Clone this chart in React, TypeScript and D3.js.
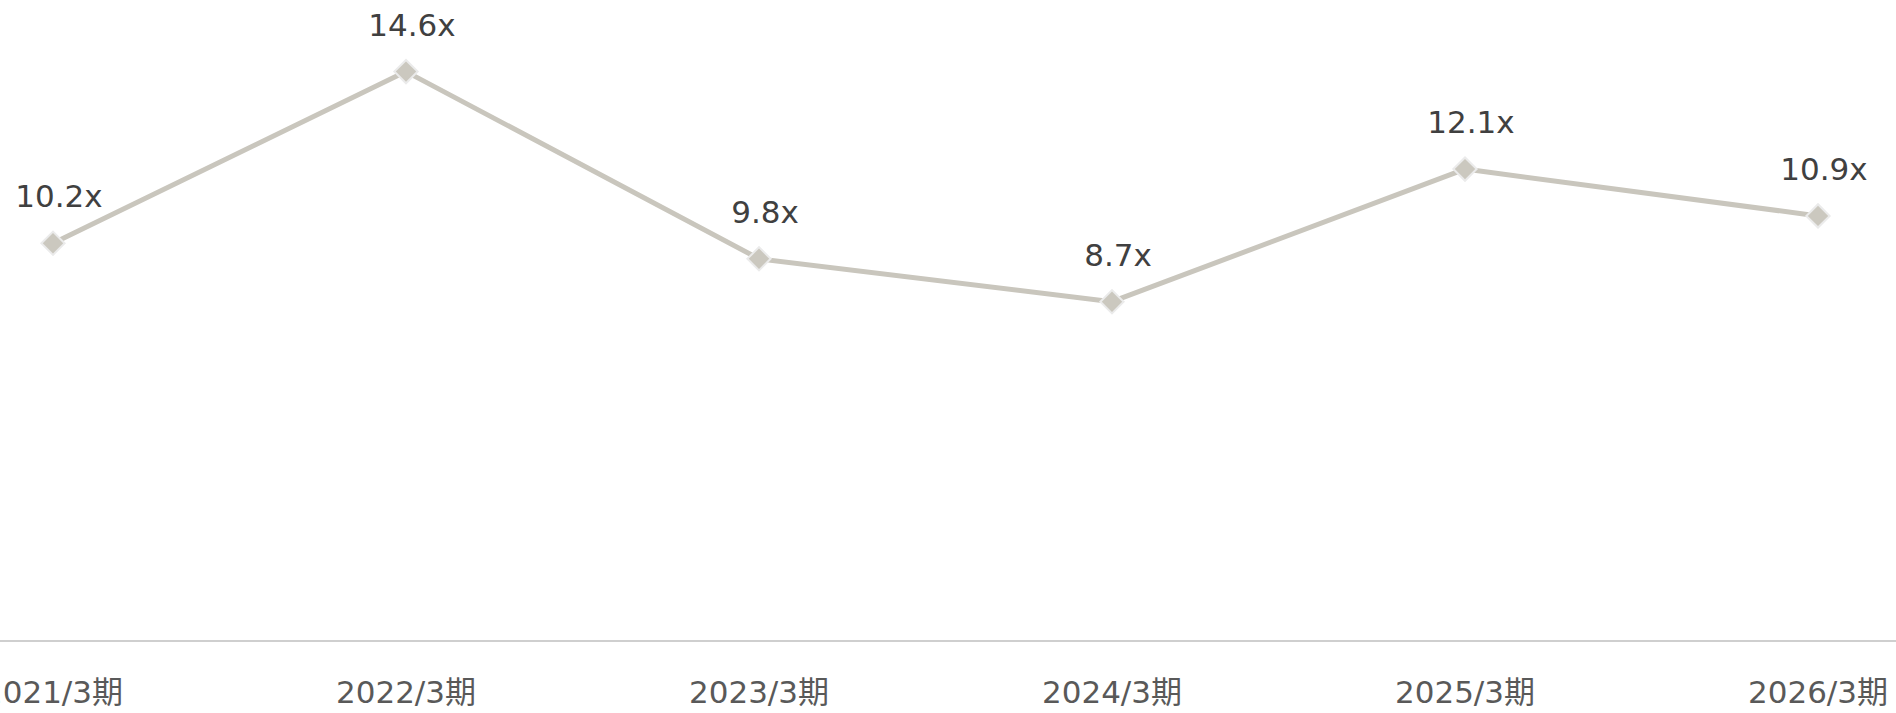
import React from "react";
import * as d3 from "d3";

// 期ごとのPER推移
const categories = ["2021/3期", "2022/3期", "2023/3期", "2024/3期", "2025/3期", "2026/3期"];
const values = [10.2, 14.6, 9.8, 8.7, 12.1, 10.9];
const valueLabels = ["10.2x", "14.6x", "9.8x", "8.7x", "12.1x", "10.9x"];

const W = 1896;
const H = 713;
const FONT = "'DejaVu Sans', 'Noto Sans CJK JP', sans-serif";

export default function App() {
  const x = d3.scalePoint<string>().domain(categories).range([53, 1818]);
  const y = d3.scaleLinear().domain([0, 16]).range([641, 17]);

  const line = d3
    .line<number>()
    .x((_, i) => x(categories[i]) as number)
    .y((d) => y(d));

  const diamond = d3.symbol().type(d3.symbolSquare).size(270)();

  return (
    <svg
      width={W}
      height={H}
      style={{ position: "absolute", left: 0, top: 0, background: "#fff" }}
      fontFamily={FONT}
    >
      {/* 軸線 */}
      <line x1={0} x2={W} y1={y(0)} y2={y(0)} stroke="#cfcfcf" strokeWidth={2} />

      <path d={line(values) || ""} fill="none" stroke="#c9c6bd" strokeWidth={5} strokeLinejoin="round" />

      {values.map((v, i) => {
        const cx = x(categories[i]) as number;
        const cy = y(v);
        return (
          <g key={i}>
            <path
              d={diamond || ""}
              transform={`translate(${cx},${cy}) rotate(45)`}
              fill="#cbc8bf"
              stroke="#ebebeb"
              strokeWidth={2}
            />
            <text x={cx + 6} y={cy - 36} textAnchor="middle" fontSize={31} fill="#404040">
              {valueLabels[i]}
            </text>
          </g>
        );
      })}

      {categories.map((c) => (
        <text key={c} x={x(c) as number} y={703} textAnchor="middle" fontSize={31} fill="#595959">
          {c}
        </text>
      ))}
    </svg>
  );
}
